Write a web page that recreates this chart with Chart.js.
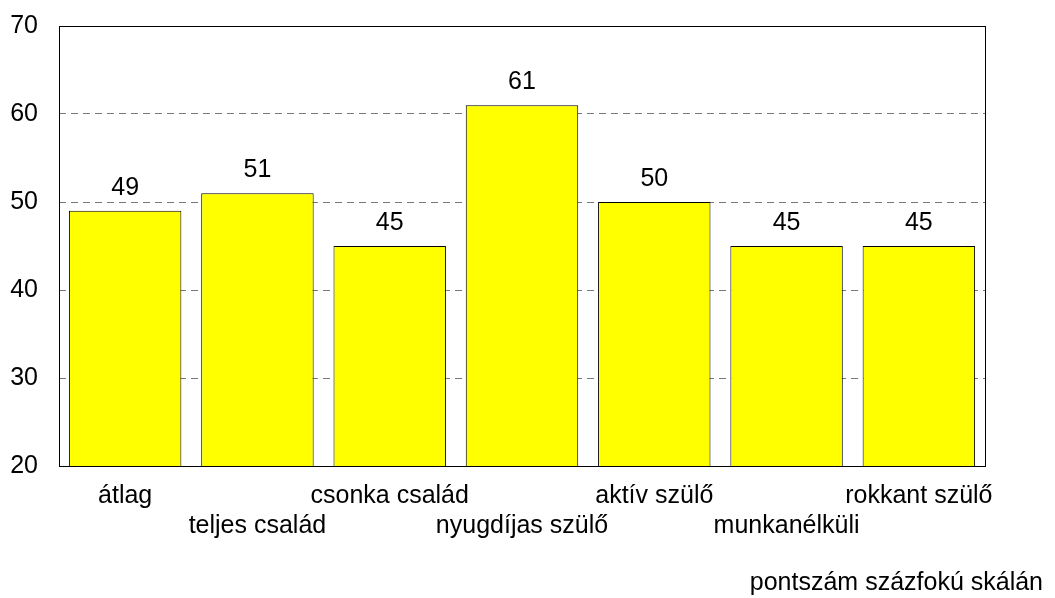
<!DOCTYPE html>
<html>
<head>
<meta charset="utf-8">
<script src="https://cdn.jsdelivr.net/npm/chart.js@4.4.0/dist/chart.umd.min.js"></script>
<style>
	body { margin: 0; background: #ffffff; }
	#wrap { width: 1055px; height: 598px; }
</style>
</head>
<body>
<div id="wrap"><canvas id="myChart" width="1055" height="598"></canvas></div>
<script>
const categories = ["átlag", "teljes család", "csonka család", "nyugdíjas szülő", "aktív szülő", "munkanélküli", "rokkant szülő"];
const values = [49, 51, 45, 61, 50, 45, 45];
const yTicks = [20, 30, 40, 50, 60, 70];
const note = "pontszám százfokú skálán";

const ctx = document.getElementById('myChart');
const font = "Liberation Sans, Arial, sans-serif";

// value labels above the bars + frame around the plot
const extras = {
	id: 'extras',
	afterDatasetsDraw(chart) {
		let c = chart.ctx;
		let area = chart.chartArea;
		c.save();
		c.strokeStyle = '#000000';
		c.lineWidth = 1;
		c.strokeRect(Math.round(area.left) + 0.5, Math.round(area.top) + 0.5, Math.round(area.right - area.left), Math.round(area.bottom - area.top));
		c.fillStyle = '#000000';
		c.font = "25px " + font;
		c.textAlign = 'center';
		c.textBaseline = 'middle';
		let meta = chart.getDatasetMeta(0);
		for (let i = 0; i < meta.data.length; i++) {
			let bar = meta.data[i];
			c.fillText(String(values[i]), bar.x, bar.y - 23);
		}
		c.restore();
	}
};

const myChart = new Chart(ctx, {
	type: 'bar',
	data: {
		labels: categories,
		datasets: [{
			data: values,
			backgroundColor: '#FFFF00',
			borderColor: '#000000',
			borderWidth: 1,
			barPercentage: 0.85,
			categoryPercentage: 1
		}]
	},
	plugins: [extras],
	options: {
		responsive: false,
		animation: false,
		layout: { padding: { left: 10, right: 12, top: 26, bottom: 0 } },
		plugins: {
			legend: { display: false },
			tooltip: { enabled: false },
			title: {
				display: true,
				text: note,
				position: 'bottom',
				align: 'end',
				color: '#000000',
				font: { family: font, size: 25, weight: 'normal', lineHeight: 1.2 },
				padding: { top: 12, bottom: 0 }
			}
		},
		scales: {
			x: {
				grid: { display: false, drawTicks: false },
				border: { display: false },
				ticks: {
					color: '#000000',
					font: { family: font, size: 25, lineHeight: 1.2 },
					padding: 15,
					maxRotation: 0,
					autoSkip: false,
					callback: function(value, index) {
						if (index % 2 === 0) return [categories[index], ''];
						return ['', categories[index]];
					}
				}
			},
			y: {
				min: 20,
				max: 70,
				afterFit: function(scale) {
					scale.width = 49;
					scale.paddingTop = 0;
					scale.paddingBottom = 0;
				},
				afterBuildTicks: function(scale) {
					scale.ticks = yTicks.map(v => ({ value: v }));
				},
				grid: {
					color: function(c) {
						if (c.tick.value === 20 || c.tick.value === 70) return 'rgba(0,0,0,0)';
						return '#777777';
					},
					drawTicks: false
				},
				border: { display: false, dash: [7, 5] },
				ticks: {
					color: '#000000',
					font: { family: font, size: 25 },
					padding: 21
				}
			},
			y2: {
				position: 'right',
				min: 20,
				max: 70,
				afterFit: function(scale) {
					scale.width = 58;
					scale.paddingTop = 0;
					scale.paddingBottom = 0;
				},
				grid: { display: false },
				border: { display: false },
				ticks: { display: false }
			}
		}
	}
});
</script>
</body>
</html>
